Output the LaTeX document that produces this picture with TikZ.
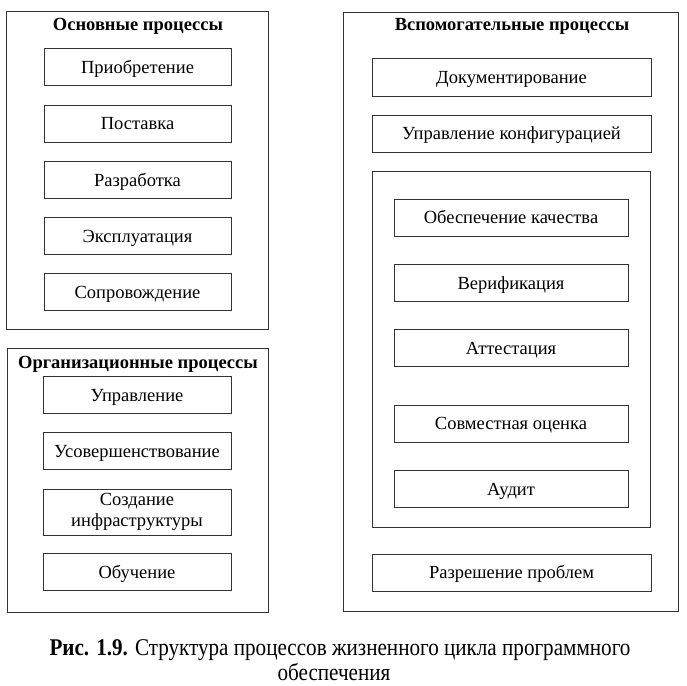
\documentclass[tikz,border=0pt]{standalone}
\usepackage{fontspec}
\setmainfont{Liberation Serif}
\newfontfamily\capfont[FakeStretch=0.88]{Liberation Serif}
\begin{document}
\begin{tikzpicture}[x=1pt,y=-1pt,
  frame/.style={draw=black!80,line width=0.9pt},
  pbox/.style={draw=black!80,line width=0.9pt,rectangle,inner sep=0pt,align=center,font=\fontsize{18.5}{20.5}\selectfont,text height=16pt,text depth=4pt},
  pbox2/.style={draw=black!80,line width=0.9pt,rectangle,inner sep=0pt,align=center,font=\fontsize{18.5}{20.5}\selectfont},
  ttl/.style={inner sep=0pt,anchor=base,font=\fontsize{18.5}{20.5}\selectfont\bfseries},
  captxt/.style={inner sep=0pt,anchor=base,font=\capfont\fontsize{24}{26}\selectfont}]
\useasboundingbox (0,0) rectangle (687,685);
% left top group
\draw[frame] (6,11) rectangle (268,329);
\node[ttl] (t1) at (138,31) {Основные процессы};
\node[pbox,minimum width=187pt,minimum height=37pt] (a1) at (137.5,67) {Приобретение};
\node[pbox,minimum width=187pt,minimum height=37pt] (a2) at (137.5,123.5) {Поставка};
\node[pbox,minimum width=187pt,minimum height=37pt] (a3) at (137.5,180) {Разработка};
\node[pbox,minimum width=187pt,minimum height=37pt] (a4) at (137.5,236) {Эксплуатация};
\node[pbox,minimum width=187pt,minimum height=37pt] (a5) at (137.5,292) {Сопровождение};
% left bottom group
\draw[frame] (7,348) rectangle (268,612);
\node[ttl] (t2) at (138,368) {Организационные процессы};
\node[pbox,minimum width=188pt,minimum height=37pt] (b1) at (137,395) {Управление};
\node[pbox,minimum width=188pt,minimum height=37pt] (b2) at (137,451) {Усовершенствование};
\node[pbox2,minimum width=188pt,minimum height=46pt] (b3) at (137,512) {Создание\\инфраструктуры};
\node[pbox,minimum width=188pt,minimum height=37pt] (b4) at (137,572) {Обучение};
% right group
\draw[frame] (343,12) rectangle (678,611);
\node[ttl] (t3) at (512,31) {Вспомогательные процессы};
\node[pbox,minimum width=279pt,minimum height=38pt] (c1) at (511.5,77) {Документирование};
\node[pbox,minimum width=279pt,minimum height=37pt] (c2) at (511.5,133.5) {Управление конфигурацией};
\draw[frame] (372,171) rectangle (650,527);
\node[pbox,minimum width=234pt,minimum height=37pt] (d1) at (511,217.5) {Обеспечение качества};
\node[pbox,minimum width=234pt,minimum height=37pt] (d2) at (511,283) {Верификация};
\node[pbox,minimum width=234pt,minimum height=37pt] (d3) at (511,348) {Аттестация};
\node[pbox,minimum width=234pt,minimum height=37pt] (d4) at (511,423.5) {Совместная оценка};
\node[pbox,minimum width=234pt,minimum height=37pt] (d5) at (511,489) {Аудит};
\node[pbox,minimum width=279pt,minimum height=37pt] (c3) at (511.5,572.5) {Разрешение проблем};
% caption
\node[captxt] (cap1) at (340,655) {\textbf{Рис. 1.9.} Структура процессов жизненного цикла программного};
\node[captxt] (cap2) at (334,680) {обеспечения};
\end{tikzpicture}
\end{document}
